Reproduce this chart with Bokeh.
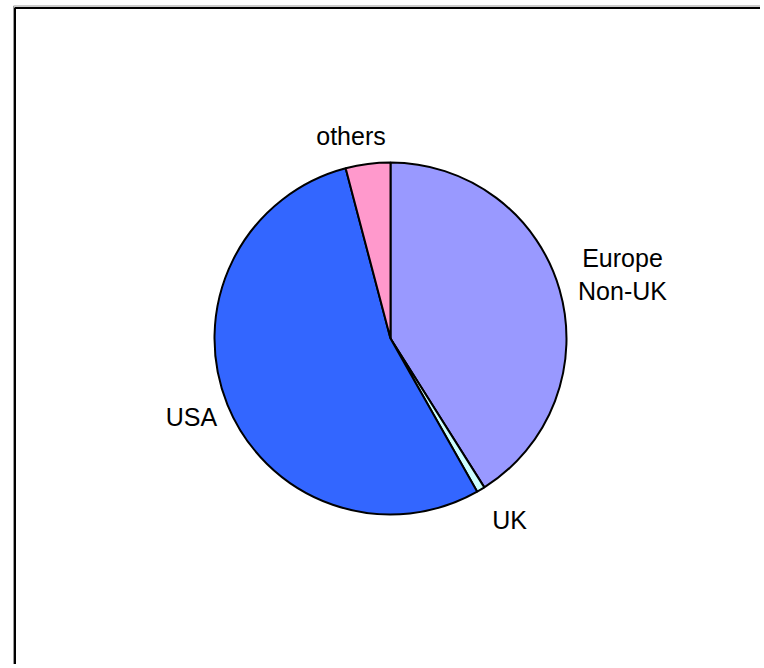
import math
from bokeh.plotting import figure
from bokeh.models import ColumnDataSource, Range1d
from bokeh.core.properties import value
from bokeh.embed import file_html
from bokeh.resources import INLINE

# ---- data ----
categories = ["Europe Non-UK", "UK", "USA", "others"]
shares = [41.05, 0.75, 54.1, 4.1]
colors = ["#9999FF", "#CCFFFF", "#3366FF", "#FF99CC"]
label_lines = [["Europe", "Non-UK"], ["UK"], ["USA"], ["others"]]

# ---- layout (pixel-like space: x = screen x, y = H - screen y) ----
W, H = 760, 664
cx, cy, r = 390, H - 338, 176
label_pos = [(622, H - 273.5), (509, H - 519), (191, H - 416), (350.5, H - 135)]
line_gap = 33

p = figure(width=W, height=H, output_backend="svg", toolbar_location=None,
           x_range=Range1d(0, W), y_range=Range1d(0, H),
           min_border=0, min_border_left=0, min_border_right=0,
           min_border_top=0, min_border_bottom=0)
p.axis.visible = False
p.grid.visible = False
p.outline_line_color = None
p.background_fill_color = "white"
p.border_fill_color = "white"

# frame (left and top edges visible; right/bottom lie outside the window)
p.line(x=[13, 13, W + 20], y=[-20, H - 5.5, H - 5.5], line_color="#999999", line_width=1)
p.line(x=[14.5, 14.5, W + 20], y=[-20, H - 7.5, H - 7.5], line_color="black", line_width=2)

# wedges, clockwise from 12 o'clock
total = sum(shares)
starts, ends = [], []
cum = 0.0
for s in shares:
    a0 = math.pi / 2 - 2 * math.pi * cum / total
    cum += s
    a1 = math.pi / 2 - 2 * math.pi * cum / total
    starts.append(a0)
    ends.append(a1)

src = ColumnDataSource(dict(x=[cx] * len(shares), y=[cy] * len(shares),
                            start=starts, end=ends, color=colors, cat=categories))
p.wedge(x="x", y="y", radius=r, start_angle="start", end_angle="end",
        direction="clock", fill_color="color", line_color="black",
        line_width=2, source=src)

# labels
tx, ty, tt = [], [], []
for lines, (lx, ly) in zip(label_lines, label_pos):
    n = len(lines)
    for i, t in enumerate(lines):
        tx.append(lx)
        ty.append(ly + (n - 1) * line_gap / 2 - i * line_gap)
        tt.append(t)
p.text(x=tx, y=ty, text=tt, text_align="center", text_baseline="middle",
       text_font=value("Liberation Sans"), text_font_size="25px", text_color="black")

open("out.html", "w").write(file_html(p, INLINE))
